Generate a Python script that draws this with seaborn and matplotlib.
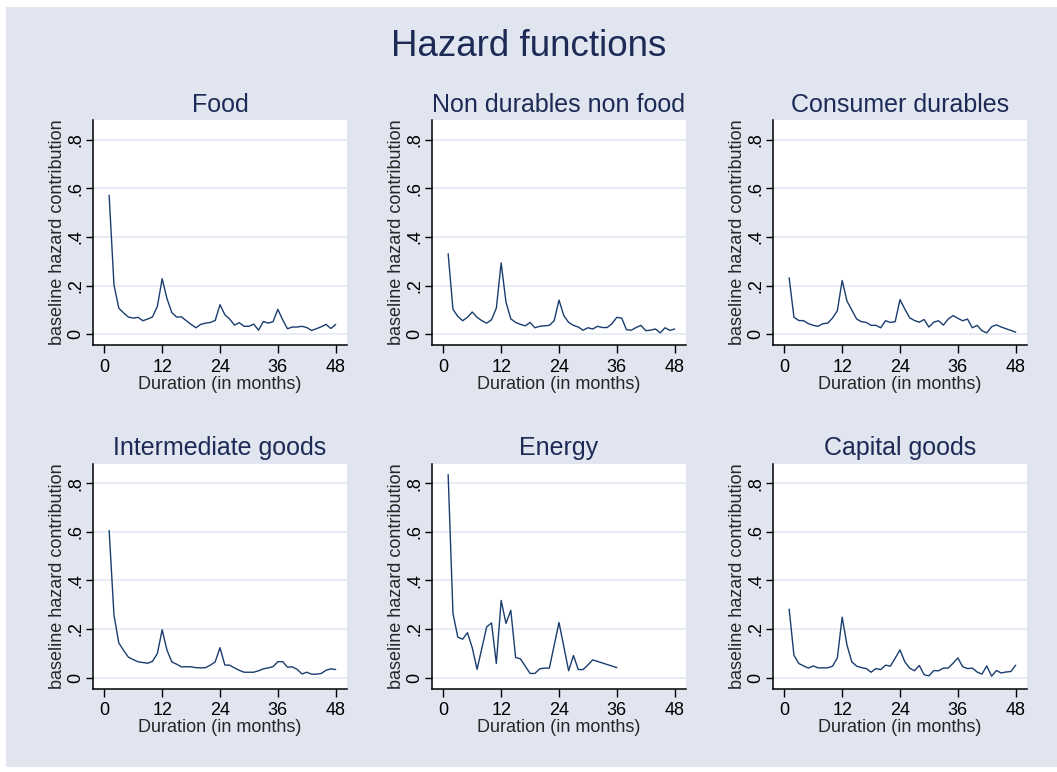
import numpy as np
import pandas as pd
import seaborn as sns
from matplotlib import pyplot as plt
from matplotlib.patches import Rectangle

# months 1..48 for most groups
months = list(range(1, 49))

food = [0.572, 0.203, 0.107, 0.087, 0.070, 0.066, 0.069, 0.055, 0.062, 0.071,
        0.114, 0.228, 0.146, 0.089, 0.070, 0.071, 0.055, 0.040, 0.026, 0.040,
        0.045, 0.048, 0.056, 0.121, 0.080, 0.062, 0.037, 0.047, 0.032, 0.032,
        0.041, 0.016, 0.052, 0.045, 0.051, 0.102, 0.059, 0.022, 0.029, 0.029,
        0.032, 0.027, 0.015, 0.022, 0.030, 0.040, 0.023, 0.040]

non_durables = [0.331, 0.102, 0.073, 0.055, 0.069, 0.091, 0.069, 0.055, 0.045, 0.059,
                0.107, 0.293, 0.131, 0.063, 0.048, 0.040, 0.034, 0.048, 0.026, 0.032,
                0.034, 0.036, 0.055, 0.140, 0.076, 0.048, 0.036, 0.029, 0.016, 0.026,
                0.021, 0.032, 0.027, 0.027, 0.043, 0.069, 0.066, 0.018, 0.016, 0.027,
                0.036, 0.014, 0.016, 0.021, 0.005, 0.026, 0.015, 0.021]

consumer_durables = [0.232, 0.069, 0.056, 0.055, 0.043, 0.036, 0.032, 0.043, 0.045, 0.066,
                     0.096, 0.221, 0.136, 0.099, 0.062, 0.051, 0.048, 0.036, 0.036, 0.026,
                     0.055, 0.048, 0.051, 0.142, 0.103, 0.067, 0.056, 0.049, 0.060, 0.029,
                     0.049, 0.055, 0.037, 0.062, 0.076, 0.065, 0.055, 0.062, 0.026, 0.036,
                     0.014, 0.005, 0.030, 0.038, 0.029, 0.022, 0.015, 0.008]

intermediate = [0.606, 0.258, 0.143, 0.112, 0.084, 0.074, 0.065, 0.062, 0.059, 0.067,
                0.099, 0.197, 0.113, 0.065, 0.055, 0.044, 0.045, 0.044, 0.041, 0.040,
                0.041, 0.051, 0.065, 0.123, 0.052, 0.051, 0.040, 0.030, 0.022, 0.022,
                0.022, 0.028, 0.036, 0.040, 0.045, 0.065, 0.066, 0.043, 0.044, 0.034,
                0.015, 0.022, 0.014, 0.014, 0.017, 0.030, 0.036, 0.033]

# energy has gaps
energy_months = [1, 2, 3, 4, 5, 6, 7, 9, 10, 11, 12, 13, 14, 15, 16, 18, 19, 20,
                 21, 22, 24, 26, 27, 28, 29, 30, 31, 36]
energy = [0.836, 0.264, 0.167, 0.158, 0.185, 0.123, 0.034, 0.209, 0.225, 0.058,
          0.318, 0.223, 0.277, 0.083, 0.077, 0.017, 0.017, 0.036, 0.039, 0.039,
          0.227, 0.028, 0.091, 0.033, 0.033, 0.052, 0.073, 0.041]

capital = [0.282, 0.092, 0.058, 0.048, 0.039, 0.048, 0.040, 0.040, 0.040, 0.047,
           0.081, 0.249, 0.134, 0.065, 0.047, 0.041, 0.037, 0.022, 0.037, 0.033,
           0.051, 0.047, 0.080, 0.114, 0.065, 0.039, 0.028, 0.050, 0.012, 0.007,
           0.029, 0.028, 0.039, 0.039, 0.059, 0.081, 0.045, 0.037, 0.039, 0.023,
           0.014, 0.048, 0.006, 0.029, 0.019, 0.023, 0.025, 0.051]

titles = ["Food", "Non durables non food", "Consumer durables",
          "Intermediate goods", "Energy", "Capital goods"]
series = [(months, food), (months, non_durables), (months, consumer_durables),
          (months, intermediate), (energy_months, energy), (months, capital)]

x_ticks = [0, 12, 24, 36, 48]
y_ticks = [0, 0.2, 0.4, 0.6, 0.8]
y_tick_labels = ["0", ".2", ".4", ".6", ".8"]

bg = "#e0e5f0"
navy = "#1a3d6e"
title_color = "#1c2a55"

sns.set_theme(style="white")
plt.rcParams['font.family'] = ['Liberation Sans', 'DejaVu Sans']

fig = plt.figure(figsize=(10.57, 7.72), dpi=100, facecolor="white")
fig.patches.append(Rectangle((6 / 1057, 5 / 772), 1 - 6 / 1057, 1 - 12 / 772,
                             transform=fig.transFigure, facecolor=bg,
                             edgecolor="none", zorder=-10))

W, H = 1057, 772
lefts = [93, 432, 773]
tops = [120, 463.5]
aw, ah = 254, 225

for i, (title, (xs, ys)) in enumerate(zip(titles, series)):
    r, c = divmod(i, 3)
    ax = fig.add_axes([lefts[c] / W, 1 - (tops[r] + ah) / H, aw / W, ah / H])
    ax.set_facecolor("white")
    df = pd.DataFrame({"month": xs, "hazard": ys})
    sns.lineplot(data=df, x="month", y="hazard", ax=ax, color=navy, lw=1.0)
    ax.set_xlim(-2.35, 50.35)
    ax.set_ylim(-0.045, 0.882)
    ax.set_xticks(x_ticks)
    ax.set_yticks(y_ticks)
    ax.set_yticklabels(y_tick_labels)
    for yv in y_ticks:
        ax.axhline(yv, color="#e4e9f2", lw=1.2, zorder=0)
    for side in ["top", "right"]:
        ax.spines[side].set_visible(False)
    for side in ["left", "bottom"]:
        ax.spines[side].set_color("black")
        ax.spines[side].set_linewidth(1.1)
    ax.tick_params(axis="both", which="major", direction="out", length=5,
                   width=1.0, color="black", labelsize=13, labelcolor="black",
                   bottom=True, left=True, pad=1.5)
    ax.tick_params(axis="x", length=6, pad=4)
    ax.tick_params(axis="y", labelrotation=90)
    for lab in ax.get_yticklabels():
        lab.set_va("center")
    ax.set_xlabel("Duration (in months)", fontsize=13, labelpad=0)
    ax.set_ylabel("baseline hazard contribution", fontsize=13, labelpad=1)
    ax.set_title(title, fontsize=18, color=title_color, pad=6)
    ax.grid(False)

fig.text(0.5, 1 - 47 / H, "Hazard functions", ha="center", va="center",
         fontsize=26.5, color=title_color)

plt.savefig("out.png", dpi=100, facecolor=fig.get_facecolor())
